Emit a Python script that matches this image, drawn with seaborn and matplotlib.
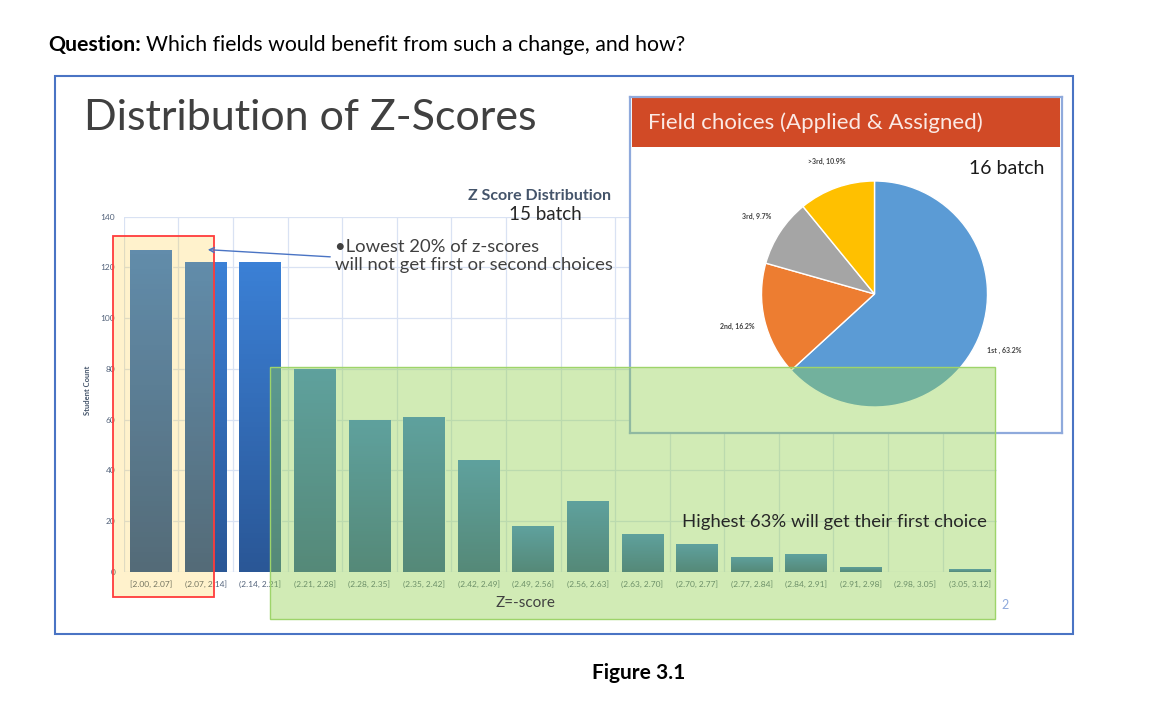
import numpy as np
import matplotlib
matplotlib.use('Agg')
import matplotlib.pyplot as plt
from matplotlib.patches import Rectangle, FancyArrowPatch
from matplotlib.colors import LinearSegmentedColormap
import seaborn as sns

# Datos del histograma de z-scores (15 batch)
z_bins = ['[2.00, 2.07]', '(2.07, 2.14]', '(2.14, 2.21]', '(2.21, 2.28]',
          '(2.28, 2.35]', '(2.35, 2.42]', '(2.42, 2.49]', '(2.49, 2.56]',
          '(2.56, 2.63]', '(2.63, 2.70]', '(2.70, 2.77]', '(2.77, 2.84]',
          '(2.84, 2.91]', '(2.91, 2.98]', '(2.98, 3.05]', '(3.05, 3.12]']
student_count = [127, 122, 122, 80, 60, 61, 44, 18, 28, 15, 11, 6, 7, 2, 0, 1]
y_ticks = [0, 20, 40, 60, 80, 100, 120, 140]

# Datos del pie (16 batch)
choice_labels = ['1st , 63.2%', '2nd, 16.2%', '3rd, 9.7%', '>3rd, 10.9%']
choice_share = [63.2, 16.2, 9.7, 10.9]
choice_colors = ['#5B9BD5', '#ED7D31', '#A5A5A5', '#FFC000']

W, H = 1152, 705


def box(x0, y0, x1, y1):
    """Convierte un rectangulo en pixeles (origen arriba) a coords de figura."""
    return [x0 / W, 1 - y1 / H, (x1 - x0) / W, (y1 - y0) / H]


def fx(x):
    return x / W


def fy(y):
    return 1 - y / H


sns.set_theme(style='white')
plt.rcParams['font.family'] = ['Lato', 'DejaVu Sans']

fig = plt.figure(figsize=(W / 100, H / 100), dpi=100)
fig.patch.set_facecolor('white')

# --- grafico de barras ---
ax = fig.add_axes(box(123.7, 216.5, 997.3, 572))
ax.set_zorder(0)
sns.barplot(x=z_bins, y=student_count, ax=ax, width=0.76, color='#3570C0',
            saturation=1, zorder=2)
ax.set_xlim(-0.5, len(z_bins) - 0.5)
ax.set_ylim(0, 140)
ax.set_yticks(y_ticks)
ax.set_xticks(np.arange(len(z_bins) + 1) - 0.5, minor=True)
ax.grid(axis='y', color='#D9E2F3', linewidth=0.9, zorder=0)
ax.grid(axis='x', which='minor', color='#D9E2F3', linewidth=0.9, zorder=0)
ax.grid(axis='x', which='major', visible=False)
ax.set_axisbelow(True)
for s in ax.spines.values():
    s.set_visible(False)
ax.tick_params(axis='both', which='both', length=0, labelsize=6,
               labelcolor='#52627A', pad=6)
ax.set_xlabel('')
ax.set_ylabel('')

# degradado en cada barra (como en Excel)
cmap = LinearSegmentedColormap.from_list('bar_grad', ['#2A5796', '#3B80D6'])
grad = np.linspace(0, 1, 64).reshape(-1, 1)
for patch in list(ax.patches):
    x0, y0 = patch.get_x(), patch.get_y()
    w, h = patch.get_width(), patch.get_height()
    if h <= 0:
        continue
    im = ax.imshow(grad, extent=[x0, x0 + w, y0, y0 + h], aspect='auto',
                   cmap=cmap, origin='lower', zorder=2.5)
    im.set_clip_path(patch)
ax.set_xlim(-0.5, len(z_bins) - 0.5)
ax.set_ylim(0, 140)
ax.set_aspect('auto')

fig.text(fx(88), fy(390), 'Student Count', rotation=90, fontsize=5.5,
         fontweight='bold', color='#44546A', ha='center', va='center')
fig.text(fx(525), fy(603), 'Z=-score', fontsize=11, color='#404040',
         ha='center', va='center')
fig.text(fx(539), fy(196), 'Z Score Distribution', fontsize=11.5,
         fontweight='bold', color='#44546A', ha='center', va='center')
fig.text(fx(545), fy(214), '15 batch', fontsize=13.5, color='#262626',
         ha='center', va='center')

# --- panel del pie ---
panel = fig.add_axes(box(630, 97, 1062, 433))
panel.set_zorder(0.5)
panel.set_facecolor('white')
panel.set_xticks([])
panel.set_yticks([])
for s in panel.spines.values():
    s.set_color('#8FAADC')
    s.set_linewidth(1.6)
panel.set_xlim(630, 1062)
panel.set_ylim(433, 97)
panel.add_patch(Rectangle((632, 98), 428, 49, facecolor='#D14A26',
                          edgecolor='none'))
panel.text(648, 123, 'Field choices (Applied & Assigned)', fontsize=16,
           color='#FBE9E4', va='center', ha='left')
panel.text(1044, 168, '16 batch', fontsize=14, color='#1a1a1a',
           va='center', ha='right')

pie_r = 113
pax = fig.add_axes(box(874.5 - pie_r * 1.25, 294 - pie_r * 1.25,
                       874.5 + pie_r * 1.25, 294 + pie_r * 1.25))
pax.set_zorder(0.6)
pax.patch.set_alpha(0)
pax.pie(choice_share, labels=choice_labels, colors=choice_colors,
        startangle=90, counterclock=False, labeldistance=1.25,
        wedgeprops=dict(edgecolor='white', linewidth=1),
        textprops=dict(fontsize=5, fontweight='bold', color='#404040',
                       ha='center', va='center'))

# --- cuadros superpuestos ---
fig.add_artist(Rectangle((fx(113), fy(597)), (214 - 113) / W, (597 - 236) / H,
                         transform=fig.transFigure, facecolor='#FFC000',
                         alpha=0.2, edgecolor='none', zorder=3))
fig.add_artist(Rectangle((fx(113), fy(597)), (214 - 113) / W, (597 - 236) / H,
                         transform=fig.transFigure, facecolor='none',
                         edgecolor='#FF3B3B', linewidth=1.3, zorder=3.1))
fig.add_artist(Rectangle((fx(270), fy(619)), (995 - 270) / W, (619 - 367) / H,
                         transform=fig.transFigure, facecolor='#92D050',
                         alpha=0.42, edgecolor='none', zorder=3))
fig.add_artist(Rectangle((fx(270), fy(619)), (995 - 270) / W, (619 - 367) / H,
                         transform=fig.transFigure, facecolor='none',
                         edgecolor='#9ED46A', linewidth=1, zorder=3.1))

# marco de la diapositiva
fig.add_artist(Rectangle((fx(55), fy(634)), (1073 - 55) / W, (634 - 76) / H,
                         transform=fig.transFigure, facecolor='none',
                         edgecolor='#4A74C4', linewidth=1.5, zorder=4))

# flecha de la anotacion
fig.add_artist(FancyArrowPatch((fx(333), fy(257)), (fx(205), fy(249.5)),
                               transform=fig.transFigure, arrowstyle='->',
                               mutation_scale=9, color='#4A74C4',
                               linewidth=1, zorder=4))

fig.text(fx(335), fy(256), '\u2022Lowest 20% of z-scores\nwill not get first or second choices',
         fontsize=13.3, color='#404040', ha='left', va='center',
         linespacing=1.15, zorder=5)
fig.text(fx(682), fy(522), 'Highest 63% will get their first choice',
         fontsize=13.3, color='#262626', ha='left', va='center', zorder=5)

fig.text(fx(84), fy(118), 'Distribution of Z-Scores', fontsize=31,
         color='#404040', ha='left', va='center')
fig.text(fx(1005), fy(605), '2', fontsize=9, color='#8FAADC',
         ha='center', va='center', zorder=5)

# pregunta en la parte superior
q_bold = fig.text(fx(48), fy(45), 'Question:', fontsize=15.3,
                  fontweight='bold', color='black', ha='left', va='center')
fig.canvas.draw()
bb = q_bold.get_window_extent()
fig.text((bb.x1 + 5) / W, fy(45),
         'Which fields would benefit from such a change, and how?',
         fontsize=15.3, color='black', ha='left', va='center')

fig.text(fx(639), fy(673), 'Figure 3.1', fontsize=15, fontweight='bold',
         color='black', ha='center', va='center')

fig.savefig('out.png', dpi=100, facecolor='white')
